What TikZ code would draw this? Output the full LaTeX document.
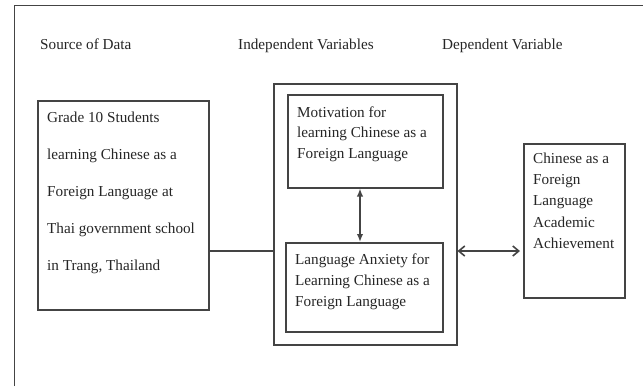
\documentclass[tikz,border=0pt]{standalone}
\usepackage{fontspec}
\setmainfont{Liberation Serif}
\usetikzlibrary{arrows.meta}
\definecolor{linecol}{HTML}{444444}
\definecolor{textcol}{HTML}{262626}
\begin{document}
\begin{tikzpicture}[x=1pt,y=-1pt,
  framestyle/.style={draw=linecol, line width=1pt},
  box/.style={draw=linecol, line width=1.5pt, anchor=north west, inner sep=0pt},
  header/.style={anchor=base west, inner sep=0pt, text=textcol, font=\fontsize{15.2}{18}\selectfont},
  boxtext/.style={anchor=north west, inner sep=0pt, align=left, text=textcol, font=\fontsize{15.2}{#1}\selectfont},
  conn/.style={draw=linecol, line width=1.6pt},
  vbiarrow/.style={conn, {Latex[length=8pt,width=6.5pt]}-{Latex[length=8pt,width=6.5pt]}},
  hbiarrow/.style={conn, {Straight Barb[length=6pt,width=10pt]}-{Straight Barb[length=6pt,width=10pt]}}]
\useasboundingbox (0,0) rectangle (643,386);
\fill[white] (0,0) rectangle (643,386);
% partial outer frame
\coordinate (fa) at (14,386);
\coordinate (fb) at (14,5);
\coordinate (fc) at (643,5);
\draw[framestyle] (fa) -- (fb) -- (fc);
% headers
\node[header] (h1) at (40,49) {Source of Data};
\node[header] (h2) at (238,49) {Independent Variables};
\node[header] (h3) at (442,49) {Dependent Variable};
% boxes
\node[box, minimum width=171pt, minimum height=209pt] (src) at (37,100) {};
\node[box, minimum width=183pt, minimum height=261pt] (iv) at (273,83) {};
\node[box, minimum width=155pt, minimum height=93pt] (mot) at (287,94) {};
\node[box, minimum width=157pt, minimum height=89pt] (anx) at (285,242) {};
\node[box, minimum width=101pt, minimum height=154pt] (dv) at (523,143) {};
% texts
\node[boxtext=37] (srct) at (47,111.5) {Grade 10 Students\\learning Chinese as a\\Foreign Language at\\Thai government school\\in Trang, Thailand};
\node[boxtext=20.5] (mott) at (297,106.5) {Motivation for\\learning Chinese as a\\Foreign Language};
\node[boxtext=21] (anxt) at (295,253.5) {Language Anxiety for\\Learning Chinese as a\\Foreign Language};
\node[boxtext=21.3] (dvt) at (533,152.5) {Chinese as a\\Foreign\\Language\\Academic\\Achievement};
% connectors
\coordinate (link) at (0,251);
\coordinate (vaxis) at (360,0);
\draw[conn] (src.east |- link) -- (iv.west |- link);
\draw[vbiarrow] (mot.south -| vaxis) -- (anx.north -| vaxis);
\draw[hbiarrow, shorten >=3pt] (iv.east |- link) -- (dv.west |- link);
\end{tikzpicture}
\end{document}
